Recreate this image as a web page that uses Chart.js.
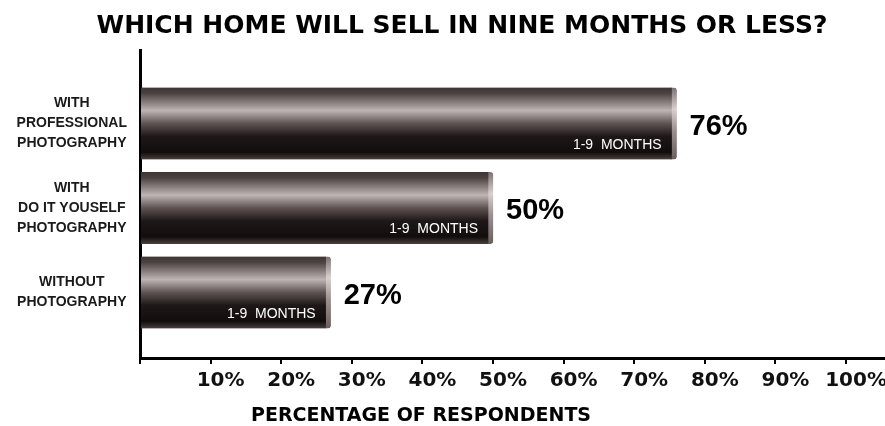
<!DOCTYPE html>
<html>
<head>
<meta charset="utf-8">
<title>Which home will sell in nine months or less?</title>
<script src="https://cdn.jsdelivr.net/npm/chart.js@4.4.1/dist/chart.umd.min.js"></script>
<style>
  html, body { margin: 0; padding: 0; background: #fff; }
</style>
</head>
<body>
<canvas id="homeChart" width="885" height="426"></canvas>
<script>
// data
const categories = [
  ['WITH', 'PROFESSIONAL', 'PHOTOGRAPHY'],
  ['WITH', 'DO IT YOUSELF', 'PHOTOGRAPHY'],
  ['WITHOUT', 'PHOTOGRAPHY']
];
const sellPct = [76, 50, 27];
const barNote = '1-9  MONTHS';
const tickValues = [0, 10, 20, 30, 40, 50, 60, 70, 80, 90, 100];
const chartTitle = 'WHICH HOME WILL SELL IN NINE MONTHS OR LESS?';
const axisTitle = 'PERCENTAGE OF RESPONDENTS';

// metal tube look, gradient follows each bar
function barMid(c) {
  const y = c.chart.scales.y;
  if (!y || !c.raw) return NaN;
  return y.getPixelForValue(c.raw.y);
}

function tubeFill(c) {
  const mid = barMid(c);
  if (!Number.isFinite(mid)) return '#221b1a';
  const g = c.chart.ctx.createLinearGradient(0, mid - 36, 0, mid + 36);
  g.addColorStop(0, '#3e3534');
  g.addColorStop(0.08, '#4a4140');
  g.addColorStop(0.32, '#bdb4b3');
  g.addColorStop(0.5, '#5d5352');
  g.addColorStop(0.68, '#1e1717');
  g.addColorStop(0.9, '#120d0d');
  g.addColorStop(1, '#4a403d');
  return g;
}

function capFill(c) {
  const mid = barMid(c);
  if (!Number.isFinite(mid)) return '#aaa';
  const g = c.chart.ctx.createLinearGradient(0, mid - 36, 0, mid + 36);
  g.addColorStop(0, '#7a706f');
  g.addColorStop(0.3, '#d8d0cf');
  g.addColorStop(0.6, '#9a908f');
  g.addColorStop(1, '#6a5f5d');
  return g;
}

const barText = {
  id: 'barText',
  afterDatasetsDraw(chart) {
    const ctx = chart.ctx;
    const meta = chart.getDatasetMeta(0);
    ctx.save();
    meta.data.forEach((bar, i) => {
      ctx.fillStyle = '#fff';
      ctx.font = '14px "Liberation Sans", Arial, sans-serif';
      ctx.textAlign = 'right';
      ctx.textBaseline = 'alphabetic';
      ctx.fillText(barNote, bar.x - 15, bar.y + 25);
      ctx.fillStyle = '#000';
      ctx.font = 'bold 29px "Liberation Sans", Arial, sans-serif';
      ctx.textAlign = 'left';
      ctx.fillText(sellPct[i] + '%', bar.x + 13, bar.y + 11);
    });
    ctx.restore();
  },
  afterDraw(chart) {
    const ctx = chart.ctx;
    ctx.save();
    ctx.fillStyle = '#000';
    ctx.textAlign = 'center';
    ctx.textBaseline = 'alphabetic';
    ctx.font = 'bold 25px "DejaVu Sans", sans-serif';
    ctx.fillText(chartTitle, 462, 33);
    ctx.font = 'bold 19px "DejaVu Sans", sans-serif';
    ctx.fillText(axisTitle, 421, 421);
    ctx.restore();
  }
};

new Chart(document.getElementById('homeChart'), {
  type: 'bar',
  data: {
    datasets: [{
      data: sellPct.map((v, i) => ({ x: v, y: i })),
      backgroundColor: tubeFill,
      borderColor: capFill,
      borderWidth: { top: 0, right: 5, bottom: 0, left: 0 },
      borderRadius: { topRight: 3, bottomRight: 3 },
      barThickness: 72
    }]
  },
  options: {
    indexAxis: 'y',
    responsive: false,
    devicePixelRatio: 1,
    animation: false,
    layout: { padding: { top: 50, right: 0, bottom: 0, left: 0 } },
    plugins: { legend: { display: false }, tooltip: { enabled: false } },
    scales: {
      x: {
        type: 'linear',
        min: 0,
        max: 105.52,
        afterBuildTicks: s => { s.ticks = tickValues.map(v => ({ value: v })); },
        afterFit: s => { s.height = 68; },
        grid: { drawOnChartArea: false, drawTicks: true, tickLength: 6, color: '#000', lineWidth: 2 },
        border: { color: '#000', width: 3 },
        ticks: {
          labelOffset: 10,
          padding: 5,
          color: '#111',
          font: { family: '"DejaVu Sans", sans-serif', weight: 'bold', size: 20 },
          callback: v => v === 0 ? '' : v + '%'
        }
      },
      y: {
        type: 'linear',
        offset: false,
        reverse: true,
        min: -0.87,
        max: 2.775,
        afterBuildTicks: s => { s.ticks = categories.map((c, i) => ({ value: i })); },
        afterFit: s => { s.width = 140; },
        grid: { offset: false, drawOnChartArea: false, drawTicks: false },
        border: { color: '#000', width: 3 },
        ticks: {
          crossAlign: 'center',
          padding: 13,
          color: '#1a1a1a',
          font: { family: '"Liberation Sans", Arial, sans-serif', weight: 'bold', size: 14, lineHeight: 1.43 },
          callback: v => categories[v]
        }
      }
    }
  },
  plugins: [barText]
});
</script>
</body>
</html>
